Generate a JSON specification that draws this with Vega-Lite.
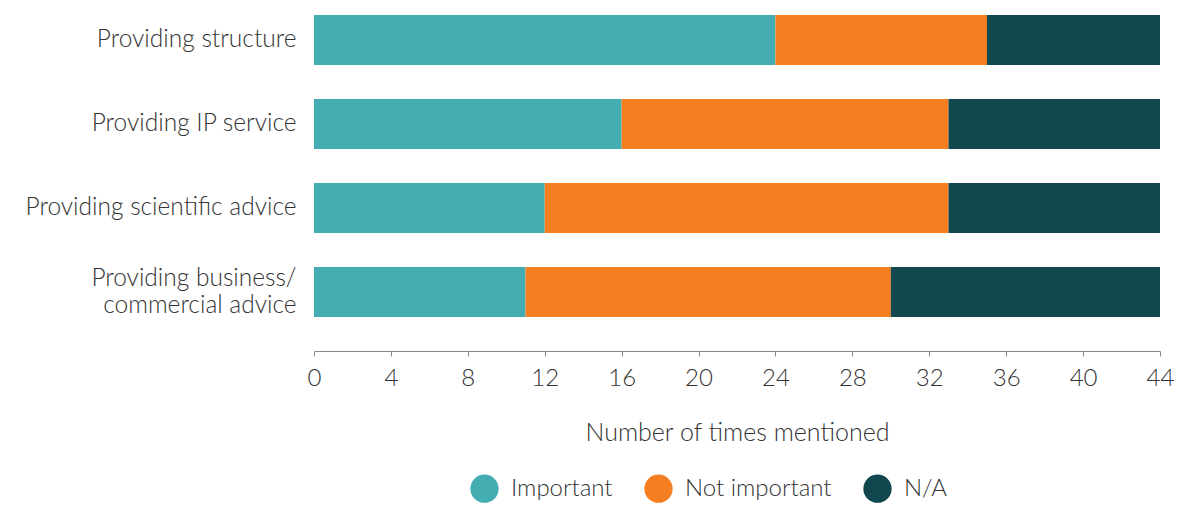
{
  "$schema": "https://vega.github.io/schema/vega-lite/v6.json",
  "width": 846,
  "height": 332,
  "autosize": {"type": "none"},
  "padding": {"left": 314, "top": 0, "right": 18, "bottom": 175},
  "background": "white",
  "config": {
    "view": {"stroke": null},
    "font": "Lato",
    "axis": {"labelFont": "Lato", "titleFont": "Lato", "labelColor": "#333333", "titleColor": "#333333", "labelFontWeight": 300, "titleFontWeight": 300},
    "legend": {"labelFont": "Lato", "labelColor": "#333333", "labelFontWeight": 300}
  },
  "data": {
    "values": [
      {"activity": "Providing structure", "response": "Important", "ord": 1, "count": 24},
      {"activity": "Providing structure", "response": "Not important", "ord": 2, "count": 11},
      {"activity": "Providing structure", "response": "N/A", "ord": 3, "count": 9},
      {"activity": "Providing IP service", "response": "Important", "ord": 1, "count": 16},
      {"activity": "Providing IP service", "response": "Not important", "ord": 2, "count": 17},
      {"activity": "Providing IP service", "response": "N/A", "ord": 3, "count": 11},
      {"activity": "Providing scientific advice", "response": "Important", "ord": 1, "count": 12},
      {"activity": "Providing scientific advice", "response": "Not important", "ord": 2, "count": 21},
      {"activity": "Providing scientific advice", "response": "N/A", "ord": 3, "count": 11},
      {"activity": "Providing business/ commercial advice", "response": "Important", "ord": 1, "count": 11},
      {"activity": "Providing business/ commercial advice", "response": "Not important", "ord": 2, "count": 19},
      {"activity": "Providing business/ commercial advice", "response": "N/A", "ord": 3, "count": 14}
    ]
  },
  "mark": {"type": "bar"},
  "encoding": {
    "y": {
      "field": "activity",
      "type": "nominal",
      "sort": ["Providing structure", "Providing IP service", "Providing scientific advice", "Providing business/ commercial advice"],
      "scale": {"paddingInner": 0.405, "paddingOuter": 0.18},
      "axis": {
        "title": null,
        "domain": false,
        "ticks": false,
        "labelPadding": 18,
        "labelFontSize": 24.5,
        "labelLineHeight": 27,
        "labelLimit": 400,
        "labelOffset": {"condition": {"test": "datum.value == 'Providing business/ commercial advice'", "value": -13}, "value": 0},
        "labelExpr": "datum.label == 'Providing business/ commercial advice' ? ['Providing business/', 'commercial advice'] : datum.label"
      }
    },
    "x": {
      "field": "count",
      "type": "quantitative",
      "stack": "zero",
      "scale": {"domain": [0, 44], "nice": false},
      "axis": {
        "title": "Number of times mentioned",
        "values": [0, 4, 8, 12, 16, 20, 24, 28, 32, 36, 40, 44],
        "grid": false,
        "offset": 19,
        "domainColor": "#888888",
        "tickColor": "#888888",
        "tickSize": 5,
        "labelPadding": 10,
        "labelFontSize": 24,
        "titleFontSize": 25,
        "titlePadding": 30,
        "labelFlush": false
      }
    },
    "color": {
      "field": "response",
      "type": "nominal",
      "scale": {"domain": ["Important", "Not important", "N/A"], "range": ["#43ADB2", "#F47E20", "#11474F"]},
      "legend": {
        "title": null,
        "orient": "none",
        "direction": "horizontal",
        "legendX": 156,
        "legendY": 474,
        "symbolType": "circle",
        "symbolSize": 800,
        "symbolStrokeWidth": 0,
        "symbolOpacity": 1,
        "labelFontSize": 24,
        "labelOffset": 12,
        "columnPadding": 31
      }
    },
    "order": {"field": "ord", "type": "quantitative"}
  }
}
